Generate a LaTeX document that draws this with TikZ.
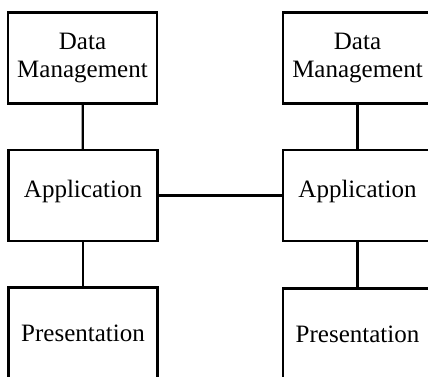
\documentclass[tikz,border=0pt]{standalone}
\usepackage{fontspec}
\setmainfont{Liberation Serif}
\begin{document}
\begin{tikzpicture}[x=1pt,y=-1pt,
  tier/.style={draw=black, line width=2.2pt, rectangle, minimum width=149pt,
    minimum height=91pt, inner sep=0pt, align=center,
    font=\fontsize{25pt}{28pt}\selectfont},
  link/.style={draw=black, line width=2.2pt}]
\useasboundingbox (0,0) rectangle (428,377);
\clip (0,0) rectangle (428,377);
\fill[white] (0,0) rectangle (428,377);
% left column
\node[tier] (ldm) at (82.5,58) {Data\\Management};
\node[tier, text depth=13pt, text height=17pt] (lapp) at (83,195.5) {Application};
\node[tier] (lpre) at (83,333) {Presentation};
% right column
\node[tier] (rdm) at (357.5,58) {Data\\Management};
\node[tier, text depth=13pt, text height=17pt] (rapp) at (357.5,195.5) {Application};
\node[tier] (rpre) at (357.5,334) {Presentation};
% connectors
\draw[link] (ldm) -- (lapp);
\draw[link] (lapp) -- (lpre);
\draw[link] (rdm) -- (rapp);
\draw[link] (rapp) -- (rpre);
\draw[link] (lapp.east) -- (rapp.west);
\end{tikzpicture}
\end{document}
